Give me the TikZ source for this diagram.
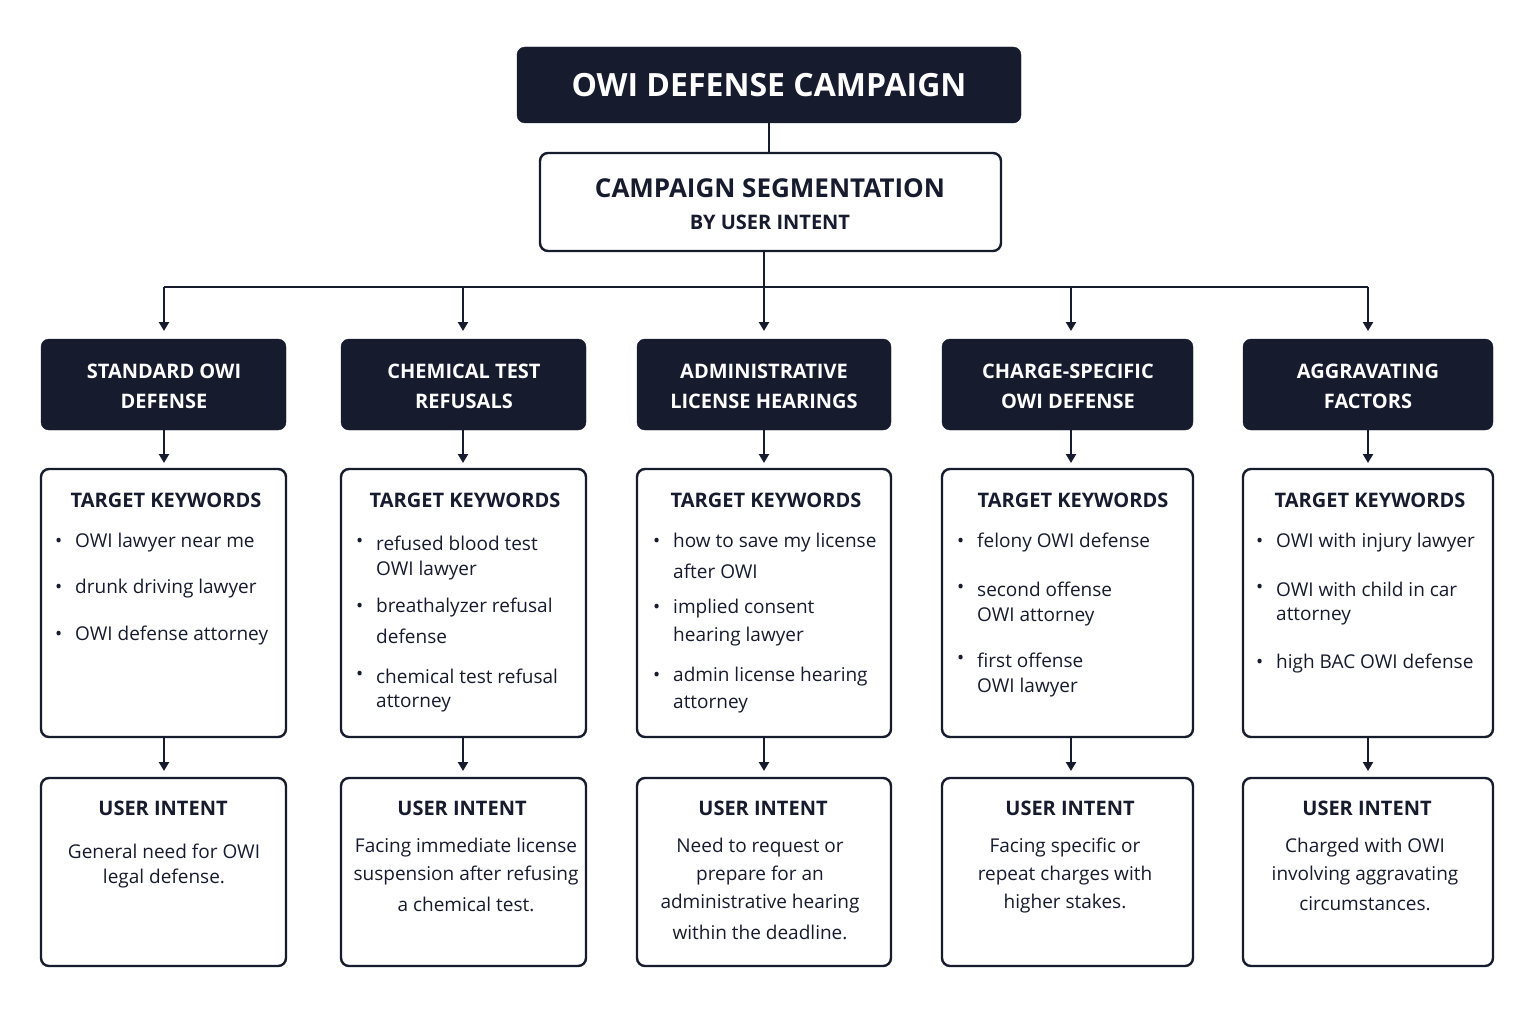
\documentclass[tikz,border=0pt]{standalone}
\usepackage{fontspec}
\setmainfont{Open Sans}
\usetikzlibrary{arrows.meta}
\definecolor{navy}{HTML}{161B2E}
\begin{document}
\begin{tikzpicture}[x=1pt,y=-1pt,
  dark/.style={fill=navy,draw=navy,rounded corners=8pt},
  wbox/.style={draw=navy,line width=2.4pt,fill=white,rounded corners=8pt},
  conn/.style={draw=navy,line width=2.2pt},
  arr/.style={conn,-{Triangle[length=9pt,width=10pt]}},
  cat/.style={text=white,font=\fontsize{20}{30}\selectfont\bfseries,align=center},
  hd/.style={text=navy,font=\fontsize{20}{24}\selectfont\bfseries},
  kw/.style={text=navy,font=\fontsize{19}{24}\selectfont,anchor=west,inner sep=0pt},
  it/.style={text=navy,font=\fontsize{19}{24}\selectfont,inner sep=0pt}]
\useasboundingbox (0,0) rectangle (1536,1014);
\fill[white] (0,0) rectangle (1536,1014);
% title
\draw[dark] (517,47) rectangle (1021,123);
\node[text=white,font=\fontsize{32}{36}\selectfont\bfseries] (title) at (769,85) {OWI DEFENSE CAMPAIGN};
\draw[wbox] (540,153) rectangle (1001,251);
\node[hd,font=\fontsize{26}{30}\selectfont\bfseries] (seg) at (770,188) {CAMPAIGN SEGMENTATION};
\node[hd,font=\fontsize{20}{24}\selectfont\bfseries] (seg2) at (770,222) {BY USER INTENT};
\coordinate (tb) at (769,123); \coordinate (st) at (769,153);
\draw[conn] (tb) -- (st);
\coordinate (sb) at (764,251); \coordinate (hl) at (164,287); \coordinate (hr) at (1368,287);
\draw[conn] (sb) -- (764,287);
\draw[conn] (hl) -- (hr);
% columns
\foreach \n/\l/\r/\c in {1/41/286/164,2/341/586/463,3/637/891/764,4/942/1193/1071,5/1243/1493/1368}{
  \coordinate (h\n) at (\c,287);
  \coordinate (ct\n) at (\c,331);
  \draw[arr] (h\n) -- (ct\n);
  \draw[dark] (\l,339) rectangle (\r,430);
  \draw[arr] (\c,430) -- (\c,463);
  \draw[wbox] (\l,469) rectangle (\r,737);
  \draw[arr] (\c,737) -- (\c,771);
  \draw[wbox] (\l,778) rectangle (\r,966);
  \node[hd] (th\n) at (\c+2,500) {TARGET KEYWORDS};
  \node[hd] (uh\n) at (\c-1,808) {USER INTENT};
}
\node[cat] (c1) at (164,386) {STANDARD OWI\\DEFENSE};
\node[cat] (c2) at (464,386) {CHEMICAL TEST\\REFUSALS};
\node[cat] (c3) at (764,386) {ADMINISTRATIVE\\LICENSE HEARINGS};
\node[cat] (c4) at (1068,386) {CHARGE-SPECIFIC\\OWI DEFENSE};
\node[cat] (c5) at (1368,386) {AGGRAVATING\\FACTORS};
% keywords
\newcommand{\bul}[2]{\node[kw] at (#1,#2) {\textbullet};}
% col1
\bul{55}{543}\bul{55}{589}\bul{55}{636}
\node[kw] (k11) at (75,543) {OWI lawyer near me};
\node[kw] (k12) at (75,589) {drunk driving lawyer};
\node[kw] (k13) at (75,636) {OWI defense attorney};
% col2
\bul{356}{543}\bul{356}{608}\bul{356}{676}
\node[kw] (k21) at (376,543) {refused blood test};
\node[kw] (k21b) at (376,571) {OWI lawyer};
\node[kw] (k22) at (376,608) {breathalyzer refusal};
\node[kw] (k22b) at (376,636) {defense};
\node[kw] (k23) at (376,676) {chemical test refusal};
\node[kw] (k23b) at (376,704) {attorney};
% col3
\bul{653}{543}\bul{653}{609}\bul{653}{677}
\node[kw] (k31) at (673,543) {how to save my license};
\node[kw] (k31b) at (673,571) {after OWI};
\node[kw] (k32) at (673,609) {implied consent};
\node[kw] (k32b) at (673,637) {hearing lawyer};
\node[kw] (k33) at (673,677) {admin license hearing};
\node[kw] (k33b) at (673,705) {attorney};
% col4
\bul{957}{543}\bul{957}{589}\bul{957}{660}
\node[kw] (k41) at (977,543) {felony OWI defense};
\node[kw] (k42) at (977,589) {second offense};
\node[kw] (k42b) at (977,617) {OWI attorney};
\node[kw] (k43) at (977,660) {first offense};
\node[kw] (k43b) at (977,688) {OWI lawyer};
% col5
\bul{1256}{543}\bul{1256}{589}\bul{1256}{664}
\node[kw] (k51) at (1276,543) {OWI with injury lawyer};
\node[kw] (k52) at (1276,589) {OWI with child in car};
\node[kw] (k52b) at (1276,617) {attorney};
\node[kw] (k53) at (1276,664) {high BAC OWI defense};
% intents
\node[it] (u11) at (164,851) {General need for OWI};
\node[it] (u12) at (164,879) {legal defense.};
\node[it] (u21) at (466,848) {Facing immediate license};
\node[it] (u22) at (466,876) {suspension after refusing};
\node[it] (u23) at (466,904) {a chemical test.};
\node[it] (u31) at (760,848) {Need to request or};
\node[it] (u32) at (760,876) {prepare for an};
\node[it] (u33) at (760,904) {administrative hearing};
\node[it] (u34) at (760,932) {within the deadline.};
\node[it] (u41) at (1065,848) {Facing specific or};
\node[it] (u42) at (1065,876) {repeat charges with};
\node[it] (u43) at (1065,904) {higher stakes.};
\node[it] (u51) at (1365,848) {Charged with OWI};
\node[it] (u52) at (1365,876) {involving aggravating};
\node[it] (u53) at (1365,904) {circumstances.};
\end{tikzpicture}
\end{document}
